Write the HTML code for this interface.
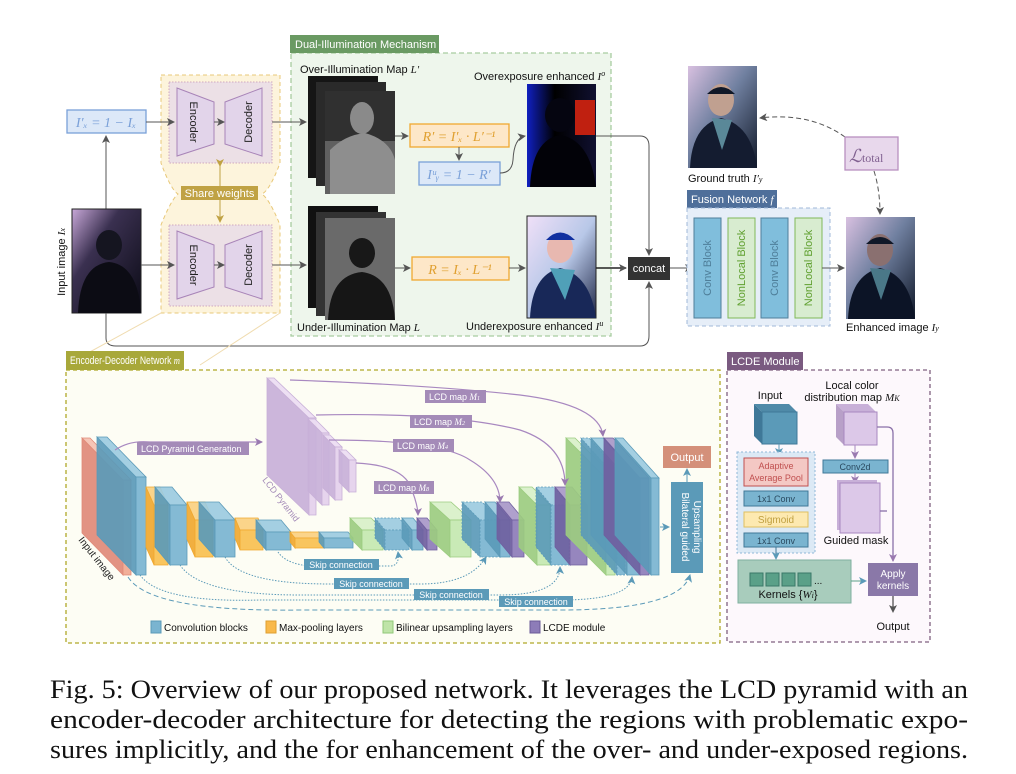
<!DOCTYPE html>
<html><head><meta charset="utf-8"><style>
html,body{margin:0;padding:0;background:#fff;}
svg{display:block;}
text{font-family:"Liberation Sans",sans-serif;}
.s{font-family:"Liberation Serif",serif;font-style:italic;}
.cap{font-family:"Liberation Serif",serif;}
</style></head><body>
<svg id="sv" width="1016" height="774" viewBox="0 0 1016 774" xmlns="http://www.w3.org/2000/svg">
<defs>
<marker id="ag" markerWidth="8" markerHeight="8" refX="7" refY="4" orient="auto" markerUnits="userSpaceOnUse"><path d="M0,0 L8,4 L0,8 L2,4z" fill="#555"/></marker>
<marker id="ap" markerWidth="8" markerHeight="8" refX="7" refY="4" orient="auto" markerUnits="userSpaceOnUse"><path d="M0,0 L8,4 L0,8 L2,4z" fill="#9a7ab0"/></marker>
<marker id="ab" markerWidth="8" markerHeight="8" refX="7" refY="4" orient="auto" markerUnits="userSpaceOnUse"><path d="M0,0 L8,4 L0,8 L2,4z" fill="#5b9ab8"/></marker>
<marker id="ao" markerWidth="8" markerHeight="8" refX="7" refY="4" orient="auto" markerUnits="userSpaceOnUse"><path d="M0,0 L8,4 L0,8 L2,4z" fill="#c0a244"/></marker>
<linearGradient id="pdark" x1="0" y1="0" x2="1" y2="1"><stop offset="0" stop-color="#c8a8d8"/><stop offset="0.35" stop-color="#3a3050"/><stop offset="1" stop-color="#0a0a14"/></linearGradient>
<linearGradient id="pbright" x1="0" y1="0" x2="1" y2="1"><stop offset="0" stop-color="#f0e0f8"/><stop offset="0.5" stop-color="#b8c8e8"/><stop offset="1" stop-color="#202848"/></linearGradient>
<linearGradient id="pover" x1="0" y1="0" x2="1" y2="0"><stop offset="0" stop-color="#1020c0"/><stop offset="0.4" stop-color="#000"/><stop offset="1" stop-color="#101030"/></linearGradient>
<linearGradient id="pgt" x1="0" y1="0" x2="1" y2="1"><stop offset="0" stop-color="#d8c0e0"/><stop offset="0.45" stop-color="#7080a0"/><stop offset="1" stop-color="#101828"/></linearGradient>
</defs>

<rect x="291" y="53" width="320" height="283" fill="#eef6ec" stroke="#a8cca0" stroke-dasharray="5,3" stroke-width="1.3"/>
<rect x="290" y="35" width="149" height="18" fill="#6a9a63"/>
<text x="295" y="48" font-size="11" fill="#fff">Dual-Illumination Mechanism</text>

<path d="M161,75 H280 V163 Q270,190 262,194 Q270,200 280,225 V313 H161 V225 Q171,200 178,194 Q171,190 161,163 Z" fill="#fdf4dc" stroke="#e8c878" stroke-dasharray="4,3"/>
<rect x="169" y="82" width="103" height="81" fill="#ece0e6" stroke="#d0a8c0" stroke-dasharray="1.5,1.5"/>
<rect x="169" y="225" width="103" height="81" fill="#ece0e6" stroke="#d0a8c0" stroke-dasharray="1.5,1.5"/>
<g fill="#e2d4ea" stroke="#a884b8">
<polygon points="177,88 214,102 214,144 177,156"/>
<polygon points="262,88 225,102 225,144 262,156"/>
<polygon points="177,231 214,245 214,287 177,299"/>
<polygon points="262,231 225,245 225,287 262,299"/>
</g>
<g font-size="11" fill="#222">
<text transform="translate(190,122) rotate(90)" text-anchor="middle">Encoder</text>
<text transform="translate(248,122) rotate(-90)" text-anchor="middle" dy="4">Decoder</text>
<text transform="translate(190,265) rotate(90)" text-anchor="middle">Encoder</text>
<text transform="translate(248,265) rotate(-90)" text-anchor="middle" dy="4">Decoder</text>
</g>
<line x1="214" y1="122" x2="224" y2="122" stroke="#555" marker-end="url(#ag)"/>
<line x1="214" y1="265" x2="224" y2="265" stroke="#555" marker-end="url(#ag)"/>
<line x1="220" y1="166" x2="220" y2="222" stroke="#c0a244" marker-end="url(#ao)" marker-start="url(#ao)"/>
<rect x="181" y="186" width="77" height="14" fill="#c0a244"/>
<text x="219.5" y="197" font-size="11" fill="#fff" text-anchor="middle">Share weights</text>

<rect x="67" y="110" width="79" height="23" fill="#dce8f8" stroke="#7aa0d8" stroke-width="1.3"/>
<text x="106" y="127" class="s" font-size="14" fill="#7aa0d8" text-anchor="middle">I′ₓ = 1 − Iₓ</text>
<line x1="146" y1="122" x2="174" y2="122" stroke="#555" marker-end="url(#ag)"/>
<line x1="106" y1="209" x2="106" y2="136" stroke="#555" marker-end="url(#ag)"/>

<rect x="72" y="209" width="69" height="104" fill="url(#pdark)" stroke="#222"/>
<ellipse cx="109" cy="245" rx="13" ry="15" fill="#151520"/>
<path d="M78,313 Q80,265 109,262 Q138,265 141,313Z" fill="#0c0c14"/>
<text transform="translate(65,262) rotate(-90)" font-size="11" text-anchor="middle" fill="#111">Input image <tspan class="s">I</tspan><tspan class="s" font-size="8">x</tspan></text>
<line x1="141" y1="265" x2="174" y2="265" stroke="#555" marker-end="url(#ag)"/>

<line x1="272" y1="122" x2="306" y2="122" stroke="#555" marker-end="url(#ag)"/>
<line x1="272" y1="265" x2="306" y2="265" stroke="#555" marker-end="url(#ag)"/>
<text x="300" y="73" font-size="11" fill="#111">Over-Illumination Map <tspan class="s">L′</tspan></text>
<rect x="308" y="76" width="70" height="102" fill="#151515"/>
<rect x="316" y="82" width="70" height="104" fill="#2a2a2a"/>
<rect x="325" y="91" width="70" height="103" fill="#606060"/>
<rect x="325" y="91" width="70" height="50" fill="#303030"/>
<ellipse cx="362" cy="118" rx="12" ry="16" fill="#8a8a8a"/>
<path d="M330,194 V150 Q345,135 365,133 Q390,140 395,160 V194Z" fill="#8e8e8e"/>
<rect x="308" y="206" width="70" height="102" fill="#111"/>
<rect x="316" y="212" width="70" height="104" fill="#333"/>
<rect x="325" y="218" width="70" height="102" fill="#6a6a6a"/>
<ellipse cx="362" cy="253" rx="13" ry="15" fill="#181818"/>
<path d="M328,320 Q330,275 362,272 Q392,276 395,320Z" fill="#161616"/>
<text x="297" y="331" font-size="11" fill="#111">Under-Illumination Map <tspan class="s">L</tspan></text>

<line x1="395" y1="136" x2="408" y2="136" stroke="#555" marker-end="url(#ag)"/>
<rect x="410" y="124" width="99" height="23" fill="#fde7c8" stroke="#f0a830" stroke-width="1.3"/>
<text x="459" y="141" class="s" font-size="14" fill="#e0a030" text-anchor="middle">R′ = I′ₓ · L′⁻¹</text>
<line x1="459" y1="147" x2="459" y2="160" stroke="#555" marker-end="url(#ag)"/>
<rect x="419" y="162" width="81" height="23" fill="#dce8f8" stroke="#7aa0d8" stroke-width="1.3"/>
<text x="459" y="179" class="s" font-size="14" fill="#7aa0d8" text-anchor="middle">Iᵘᵧ = 1 − R′</text>
<path d="M500,173 Q512,173 513,160 Q514,138 525,136" fill="none" stroke="#555" marker-end="url(#ag)"/>
<line x1="395" y1="268" x2="410" y2="268" stroke="#555" marker-end="url(#ag)"/>
<rect x="412" y="257" width="97" height="23" fill="#fde7c8" stroke="#f0a830" stroke-width="1.3"/>
<text x="460" y="274" class="s" font-size="14" fill="#e0a030" text-anchor="middle">R = Iₓ · L⁻¹</text>
<line x1="509" y1="268" x2="525" y2="268" stroke="#555" marker-end="url(#ag)"/>

<text x="474" y="80" font-size="11" fill="#111">Overexposure enhanced <tspan class="s">I</tspan><tspan class="s" font-size="8" dy="-4">o</tspan></text>
<rect x="527" y="84" width="69" height="103" fill="url(#pover)"/>
<rect x="575" y="100" width="20" height="35" fill="#c02010"/>
<ellipse cx="560" cy="115" rx="15" ry="17" fill="#050510"/>
<path d="M530,187 Q532,140 560,135 Q590,140 596,187Z" fill="#020208"/>
<rect x="527" y="216" width="69" height="102" fill="url(#pbright)" stroke="#222"/>
<ellipse cx="560" cy="248" rx="13" ry="15" fill="#e8b8b0"/>
<path d="M546,240 Q560,225 575,240Z" fill="#1030a0"/>
<path d="M530,318 Q532,275 560,268 Q590,275 596,318Z" fill="#182858"/>
<path d="M550,268 L565,300 L575,270Z" fill="#50a0b8"/>
<text x="466" y="330" font-size="11" fill="#111">Underexposure enhanced <tspan class="s">I</tspan><tspan class="s" font-size="8" dy="-4">u</tspan></text>

<path d="M596,136 H640 Q649,136 649,146 V255" fill="none" stroke="#555" marker-end="url(#ag)"/>
<line x1="596" y1="268" x2="626" y2="268" stroke="#222" stroke-width="1.5" marker-end="url(#ag)"/>
<path d="M106,313 V338 Q106,346 116,346 H640 Q649,346 649,336 V282" fill="none" stroke="#555" marker-end="url(#ag)"/>
<rect x="628" y="257" width="42" height="23" fill="#333"/>
<text x="649" y="272" font-size="11" fill="#fff" text-anchor="middle">concat</text>
<line x1="670" y1="268" x2="692" y2="268" stroke="#555" marker-end="url(#ag)"/>

<rect x="688" y="66" width="69" height="102" fill="url(#pgt)"/>
<ellipse cx="721" cy="100" rx="13" ry="16" fill="#c0a090"/>
<path d="M707,94 Q721,80 735,94Z" fill="#101828"/>
<path d="M690,168 Q692,125 721,118 Q752,125 757,168Z" fill="#141c30"/>
<path d="M712,118 L722,150 L732,120Z" fill="#5a8898"/>
<text x="688" y="182" font-size="11" fill="#111">Ground truth <tspan class="s">I′</tspan><tspan class="s" font-size="8">y</tspan></text>
<path d="M845,137 Q810,112 760,118" fill="none" stroke="#555" stroke-dasharray="5,3" marker-end="url(#ag)"/>
<rect x="845" y="137" width="53" height="33" fill="#e8d8ec" stroke="#b890c0" stroke-width="1.3"/>
<text x="849" y="162" class="s" font-size="18" fill="#806090">ℒ<tspan font-style="normal" font-size="12">total</tspan></text>
<path d="M874,171 Q880,190 880,214" fill="none" stroke="#555" stroke-dasharray="5,3" marker-end="url(#ag)"/>

<rect x="687" y="190" width="90" height="18" fill="#4f6f9a"/>
<text x="691" y="203" font-size="11" fill="#fff">Fusion Network <tspan class="s">f</tspan></text>
<rect x="687" y="208" width="143" height="118" fill="#e6eef8" stroke="#a0b8d8" stroke-dasharray="4,3"/>
<rect x="694" y="218" width="27" height="100" fill="#80bedc" stroke="#4f7f9a"/>
<rect x="728" y="218" width="27" height="100" fill="#d8ecd0" stroke="#80b858"/>
<rect x="761" y="218" width="27" height="100" fill="#80bedc" stroke="#4f7f9a"/>
<rect x="795" y="218" width="27" height="100" fill="#d8ecd0" stroke="#80b858"/>
<g font-size="11" text-anchor="middle">
<text transform="translate(711,268) rotate(-90)" fill="#4f7f9a">Conv Block</text>
<text transform="translate(745,268) rotate(-90)" fill="#60a030">NonLocal Block</text>
<text transform="translate(778,268) rotate(-90)" fill="#4f7f9a">Conv Block</text>
<text transform="translate(812,268) rotate(-90)" fill="#60a030">NonLocal Block</text>
</g>
<line x1="822" y1="268" x2="844" y2="268" stroke="#555" marker-end="url(#ag)"/>
<rect x="846" y="217" width="69" height="102" fill="url(#pgt)"/>
<ellipse cx="880" cy="250" rx="13" ry="16" fill="#8a7070"/>
<path d="M866,244 Q880,230 894,244Z" fill="#101828"/>
<path d="M848,319 Q850,275 880,268 Q910,275 915,319Z" fill="#0c1426"/>
<path d="M870,268 L881,300 L891,270Z" fill="#4a7888"/>
<text x="846" y="331" font-size="11" fill="#111">Enhanced image <tspan class="s">I</tspan><tspan class="s" font-size="8">y</tspan></text>

<path d="M161,313 L66,365 M280,313 L200,365" stroke="#f0dcb0" stroke-width="1"/>
<rect x="66" y="370" width="654" height="273" fill="#fdfdf4" stroke="#b0a828" stroke-dasharray="4,3" stroke-width="1.3"/>
<rect x="66" y="351" width="118" height="19" fill="#a8a83a"/>
<text x="70" y="364" font-size="11" fill="#fff" textLength="110" lengthAdjust="spacingAndGlyphs">Encoder-Decoder Network <tspan class="s">m</tspan></text>

<g id="boxes"></g>

<g fill="none" stroke="#a888c0" stroke-width="1.2">
<path d="M290,380 Q430,385 520,395 Q600,405 603,436" marker-end="url(#ap)"/>
<path d="M316,415 Q450,412 520,430 Q565,445 565,485" marker-end="url(#ap)"/>
<path d="M329,440 Q440,440 470,460 Q500,478 500,502" marker-end="url(#ap)"/>
<path d="M356,463 Q400,465 410,485 Q418,505 418,515" marker-end="url(#ap)"/>
<path d="M115,450 Q130,440 150,442 H262" marker-end="url(#ap)"/>
</g>
<g fill="#a48bb8">
<rect x="425" y="390" width="61" height="13"/>
<rect x="410" y="415" width="62" height="13"/>
<rect x="393" y="439" width="61" height="13"/>
<rect x="374" y="481" width="60" height="13"/>
<rect x="137" y="442" width="112" height="13"/>
</g>
<g font-size="9" fill="#fff">
<text x="429" y="400">LCD map <tspan class="s">M</tspan><tspan class="s" font-size="6">1</tspan></text>
<text x="414" y="425">LCD map <tspan class="s">M</tspan><tspan class="s" font-size="6">2</tspan></text>
<text x="397" y="449">LCD map <tspan class="s">M</tspan><tspan class="s" font-size="6">4</tspan></text>
<text x="378" y="491">LCD map <tspan class="s">M</tspan><tspan class="s" font-size="6">8</tspan></text>
<text x="141" y="452">LCD Pyramid Generation</text>
</g>
<text transform="translate(262,480) rotate(52)" font-size="9" fill="#a48bb8">LCD Pyramid</text>
<text transform="translate(78,540) rotate(52)" font-size="10" fill="#222">Input image</text>

<g fill="none" stroke="#5b9ab8" stroke-width="1" stroke-dasharray="1.5,1.5">
<path d="M278,552 Q290,570 340,566 H390 Q400,566 398,552" marker-end="url(#ab)"/>
<path d="M225,557 Q240,584 330,584 H420 Q470,584 486,557" marker-end="url(#ab)"/>
<path d="M180,565 Q200,595 300,595 H500 Q560,595 560,567" marker-end="url(#ab)"/>
<path d="M140,575 Q160,603 260,600 H560 Q630,600 632,577" marker-end="url(#ab)"/>
</g>
<path d="M128,577 Q150,612 300,610 H560 Q680,610 690,575" fill="none" stroke="#5b9ab8" stroke-dasharray="5,3" marker-end="url(#ab)"/>
<g fill="#5b9ab8">
<rect x="304" y="559" width="75" height="11"/>
<rect x="334" y="578" width="75" height="11"/>
<rect x="414" y="589" width="75" height="11"/>
<rect x="499" y="596" width="74" height="11"/>
</g>
<g font-size="9" fill="#fff" text-anchor="middle">
<text x="341" y="568">Skip connection</text>
<text x="371" y="587">Skip connection</text>
<text x="451" y="598">Skip connection</text>
<text x="536" y="605">Skip connection</text>
</g>
<line x1="660" y1="527" x2="669" y2="527" stroke="#5b9ab8" marker-end="url(#ab)"/>
<rect x="671" y="482" width="32" height="91" fill="#5b9ab8"/>
<text transform="translate(682,527) rotate(90)" font-size="10" fill="#fff" text-anchor="middle">Bilateral guided</text>
<text transform="translate(694,527) rotate(90)" font-size="10" fill="#fff" text-anchor="middle">Upsampling</text>
<line x1="687" y1="482" x2="687" y2="469" stroke="#5b9ab8" marker-end="url(#ab)"/>
<rect x="663" y="446" width="48" height="22" fill="#d4907a"/>
<text x="687" y="461" font-size="11" fill="#fff" text-anchor="middle">Output</text>

<g font-size="10" fill="#111">
<rect x="151" y="621" width="10" height="12" fill="#7ab4d0" stroke="#5b9ab8"/><text x="164" y="631">Convolution blocks</text>
<rect x="266" y="621" width="10" height="12" fill="#f9b94a" stroke="#e0a030"/><text x="279" y="631">Max-pooling layers</text>
<rect x="383" y="621" width="10" height="12" fill="#bfe4a8" stroke="#90c878"/><text x="396" y="631">Bilinear upsampling layers</text>
<rect x="530" y="621" width="10" height="12" fill="#8d7cb8" stroke="#6a5a98"/><text x="543" y="631">LCDE module</text>
</g>

<rect x="727" y="370" width="203" height="272" fill="#fdf8fc" stroke="#806080" stroke-dasharray="4,3" stroke-width="1.3"/>
<rect x="727" y="352" width="76" height="18" fill="#7a5a80"/>
<text x="731" y="365" font-size="11" fill="#fff">LCDE Module</text>
<text x="770" y="399" font-size="11" text-anchor="middle" fill="#111">Input</text>
<text x="852" y="389" font-size="11" text-anchor="middle" fill="#111">Local color</text>
<text x="852" y="401" font-size="11" text-anchor="middle" fill="#111">distribution map <tspan class="s">M</tspan><tspan class="s" font-size="8">K</tspan></text>
<polygon points="754,404 789,404 797,412 762,412" fill="#4f8aa8"/>
<polygon points="754,404 762,412 762,444 754,436" fill="#3f7898"/>
<rect x="762" y="412" width="35" height="32" fill="#5b9ab8" stroke="#3f7898"/>
<line x1="779" y1="444" x2="779" y2="455" stroke="#5b9ab8" marker-end="url(#ab)"/>
<rect x="737" y="452" width="78" height="101" fill="#dce9f5" stroke="#90b8d8" stroke-dasharray="2,2"/>
<rect x="744" y="458" width="64" height="28" fill="#f4c8c4" stroke="#c05050"/>
<text x="776" y="469" font-size="9" text-anchor="middle" fill="#c05050">Adaptive</text>
<text x="776" y="481" font-size="9" text-anchor="middle" fill="#c05050">Average Pool</text>
<rect x="744" y="491" width="64" height="15" fill="#7ab4d0" stroke="#3f7898"/>
<text x="776" y="502" font-size="9" text-anchor="middle" fill="#2a4a60">1x1 Conv</text>
<rect x="744" y="512" width="64" height="15" fill="#fde9b0" stroke="#e0c060"/>
<text x="776" y="523" font-size="10" text-anchor="middle" fill="#c0a040">Sigmoid</text>
<rect x="744" y="533" width="64" height="14" fill="#7ab4d0" stroke="#3f7898"/>
<text x="776" y="544" font-size="9" text-anchor="middle" fill="#2a4a60">1x1 Conv</text>
<line x1="776" y1="547" x2="776" y2="559" stroke="#3f7898" marker-end="url(#ab)"/>
<rect x="738" y="560" width="113" height="43" fill="#a8ccbc" stroke="#80b0a0"/>
<g fill="#5aa088" stroke="#3a7868">
<rect x="750" y="573" width="13" height="13"/><rect x="766" y="573" width="13" height="13"/><rect x="782" y="573" width="13" height="13"/><rect x="798" y="573" width="13" height="13"/>
</g>
<text x="814" y="584" font-size="10" fill="#111">...</text>
<text x="788" y="598" font-size="11" text-anchor="middle" fill="#111">Kernels {<tspan class="s">W</tspan><tspan class="s" font-size="8">i</tspan>}</text>
<line x1="851" y1="581" x2="866" y2="581" stroke="#5aa088" marker-end="url(#ab)"/>
<polygon points="836,404 868,404 876,412 844,412" fill="#c8b0d8"/>
<polygon points="836,404 844,412 844,445 836,437" fill="#b8a0c8"/>
<rect x="844" y="412" width="33" height="33" fill="#dcc8e8" stroke="#a888c0"/>
<line x1="855" y1="445" x2="855" y2="458" stroke="#a888c0" marker-end="url(#ap)"/>
<rect x="823" y="460" width="65" height="13" fill="#7ab4d0" stroke="#3f7898"/>
<text x="855" y="470" font-size="9" text-anchor="middle" fill="#2a4a60">Conv2d</text>
<line x1="855" y1="473" x2="855" y2="483" stroke="#a888c0" marker-end="url(#ap)"/>
<rect x="837" y="480" width="40" height="50" fill="#c8b0d8"/>
<rect x="840" y="483" width="40" height="50" fill="#dcc8e8" stroke="#a888c0"/>
<text x="856" y="544" font-size="11" text-anchor="middle" fill="#111">Guided mask</text>
<path d="M877,427 H887 Q893,427 893,433 V561" fill="none" stroke="#8a70a8" stroke-width="1.3" marker-end="url(#ap)"/>
<path d="M880,511 H887" fill="none" stroke="#8a70a8" stroke-width="1.3"/>
<rect x="868" y="563" width="50" height="33" fill="#8a78a8"/>
<text x="893" y="577" font-size="10" text-anchor="middle" fill="#fff">Apply</text>
<text x="893" y="589" font-size="10" text-anchor="middle" fill="#fff">kernels</text>
<line x1="893" y1="596" x2="893" y2="612" stroke="#222" marker-end="url(#ag)"/>
<text x="893" y="630" font-size="11" text-anchor="middle" fill="#111">Output</text>

<g font-size="26" fill="#111">
<text class="cap" x="50" y="698" textLength="918" lengthAdjust="spacingAndGlyphs">Fig. 5: Overview of our proposed network. It leverages the LCD pyramid with an</text>
<text class="cap" x="50" y="728" textLength="918" lengthAdjust="spacingAndGlyphs">encoder-decoder architecture for detecting the regions with problematic expo-</text>
<text class="cap" x="50" y="758" textLength="918" lengthAdjust="spacingAndGlyphs">sures implicitly, and the for enhancement of the over- and under-exposed regions.</text>
</g>
</svg>
<script>
(function(){
var g=document.getElementById('boxes'),NS='http://www.w3.org/2000/svg';
var C={b:['#7ab4d0','#5b9ab8','#9ccbe0'],o:['#f9c050','#f0a830','#fbd080'],g:['#c4e8b0','#9ccc80','#d8f0c8'],p:['#8d7cb8','#7060a0','#a898c8'],r:['#f0a890','#e08a78','#f4c0b0'],l:['#e4d0ec','#c8b0d8','#ecdcf2']};
function poly(pts,f,s,dash){var p=document.createElementNS(NS,'polygon');p.setAttribute('points',pts);p.setAttribute('fill',f);p.setAttribute('stroke',s);p.setAttribute('stroke-width','0.8');p.setAttribute('fill-opacity','0.92');if(dash)p.setAttribute('stroke-dasharray','2,1.5');g.appendChild(p);}
function box(x,y,w,h,dx,dy,c,dash){var k=C[c];
poly(x+','+y+' '+(x+dx)+','+(y+dy)+' '+(x+dx)+','+(y+h+dy)+' '+x+','+(y+h),k[1],k[1],dash);
poly(x+','+y+' '+(x+w)+','+y+' '+(x+w+dx)+','+(y+dy)+' '+(x+dx)+','+(y+dy),k[2],k[1],dash);
poly(x+','+y+' '+(x+w)+','+y+' '+(x+w)+','+(y+h)+' '+x+','+(y+h),k[0],k[1],dash);}
var B=[
[123,480,8,95,-41,-42,'r'],[136,477,10,98,-39,-40,'b'],
[154,505,14,60,-8,-18,'o'],[170,505,17,60,-15,-18,'b'],
[195,520,18,37,-8,-18,'o'],[215,520,20,37,-16,-18,'b'],
[240,530,23,20,-5,-12,'o'],[266,532,25,18,-10,-12,'b'],
[295,538,29,10,-5,-6,'o'],[324,538,29,10,-5,-6,'b'],
[309,418,7,97,-42,-40,'l'],[322,433,7,72,-14,-14,'l'],[335,447,7,53,-12,-12,'l'],[349,460,7,32,-10,-10,'l'],
[362,530,21,20,-12,-12,'g'],[385,530,24,20,-10,-12,'b',1],[412,530,11,20,-10,-12,'b'],[427,530,10,20,-10,-12,'p'],
[450,520,21,37,-20,-18,'g'],[480,520,20,37,-18,-18,'b',1],[500,520,10,37,-15,-18,'b'],[512,520,12,37,-15,-18,'p'],
[537,505,13,60,-18,-18,'g'],[551,505,18,60,-15,-18,'b',1],[570,505,17,60,-15,-18,'p'],
[606,478,9,97,-40,-40,'g'],[617,478,8,97,-36,-40,'b',1],[627,478,12,97,-36,-40,'b'],[640,478,9,97,-36,-40,'p'],[651,478,8,97,-36,-40,'b']];
B.forEach(function(a){box(a[0],a[1],a[2],a[3],a[4],a[5],a[6],a[7]);});
})();
</script>
</body></html>
